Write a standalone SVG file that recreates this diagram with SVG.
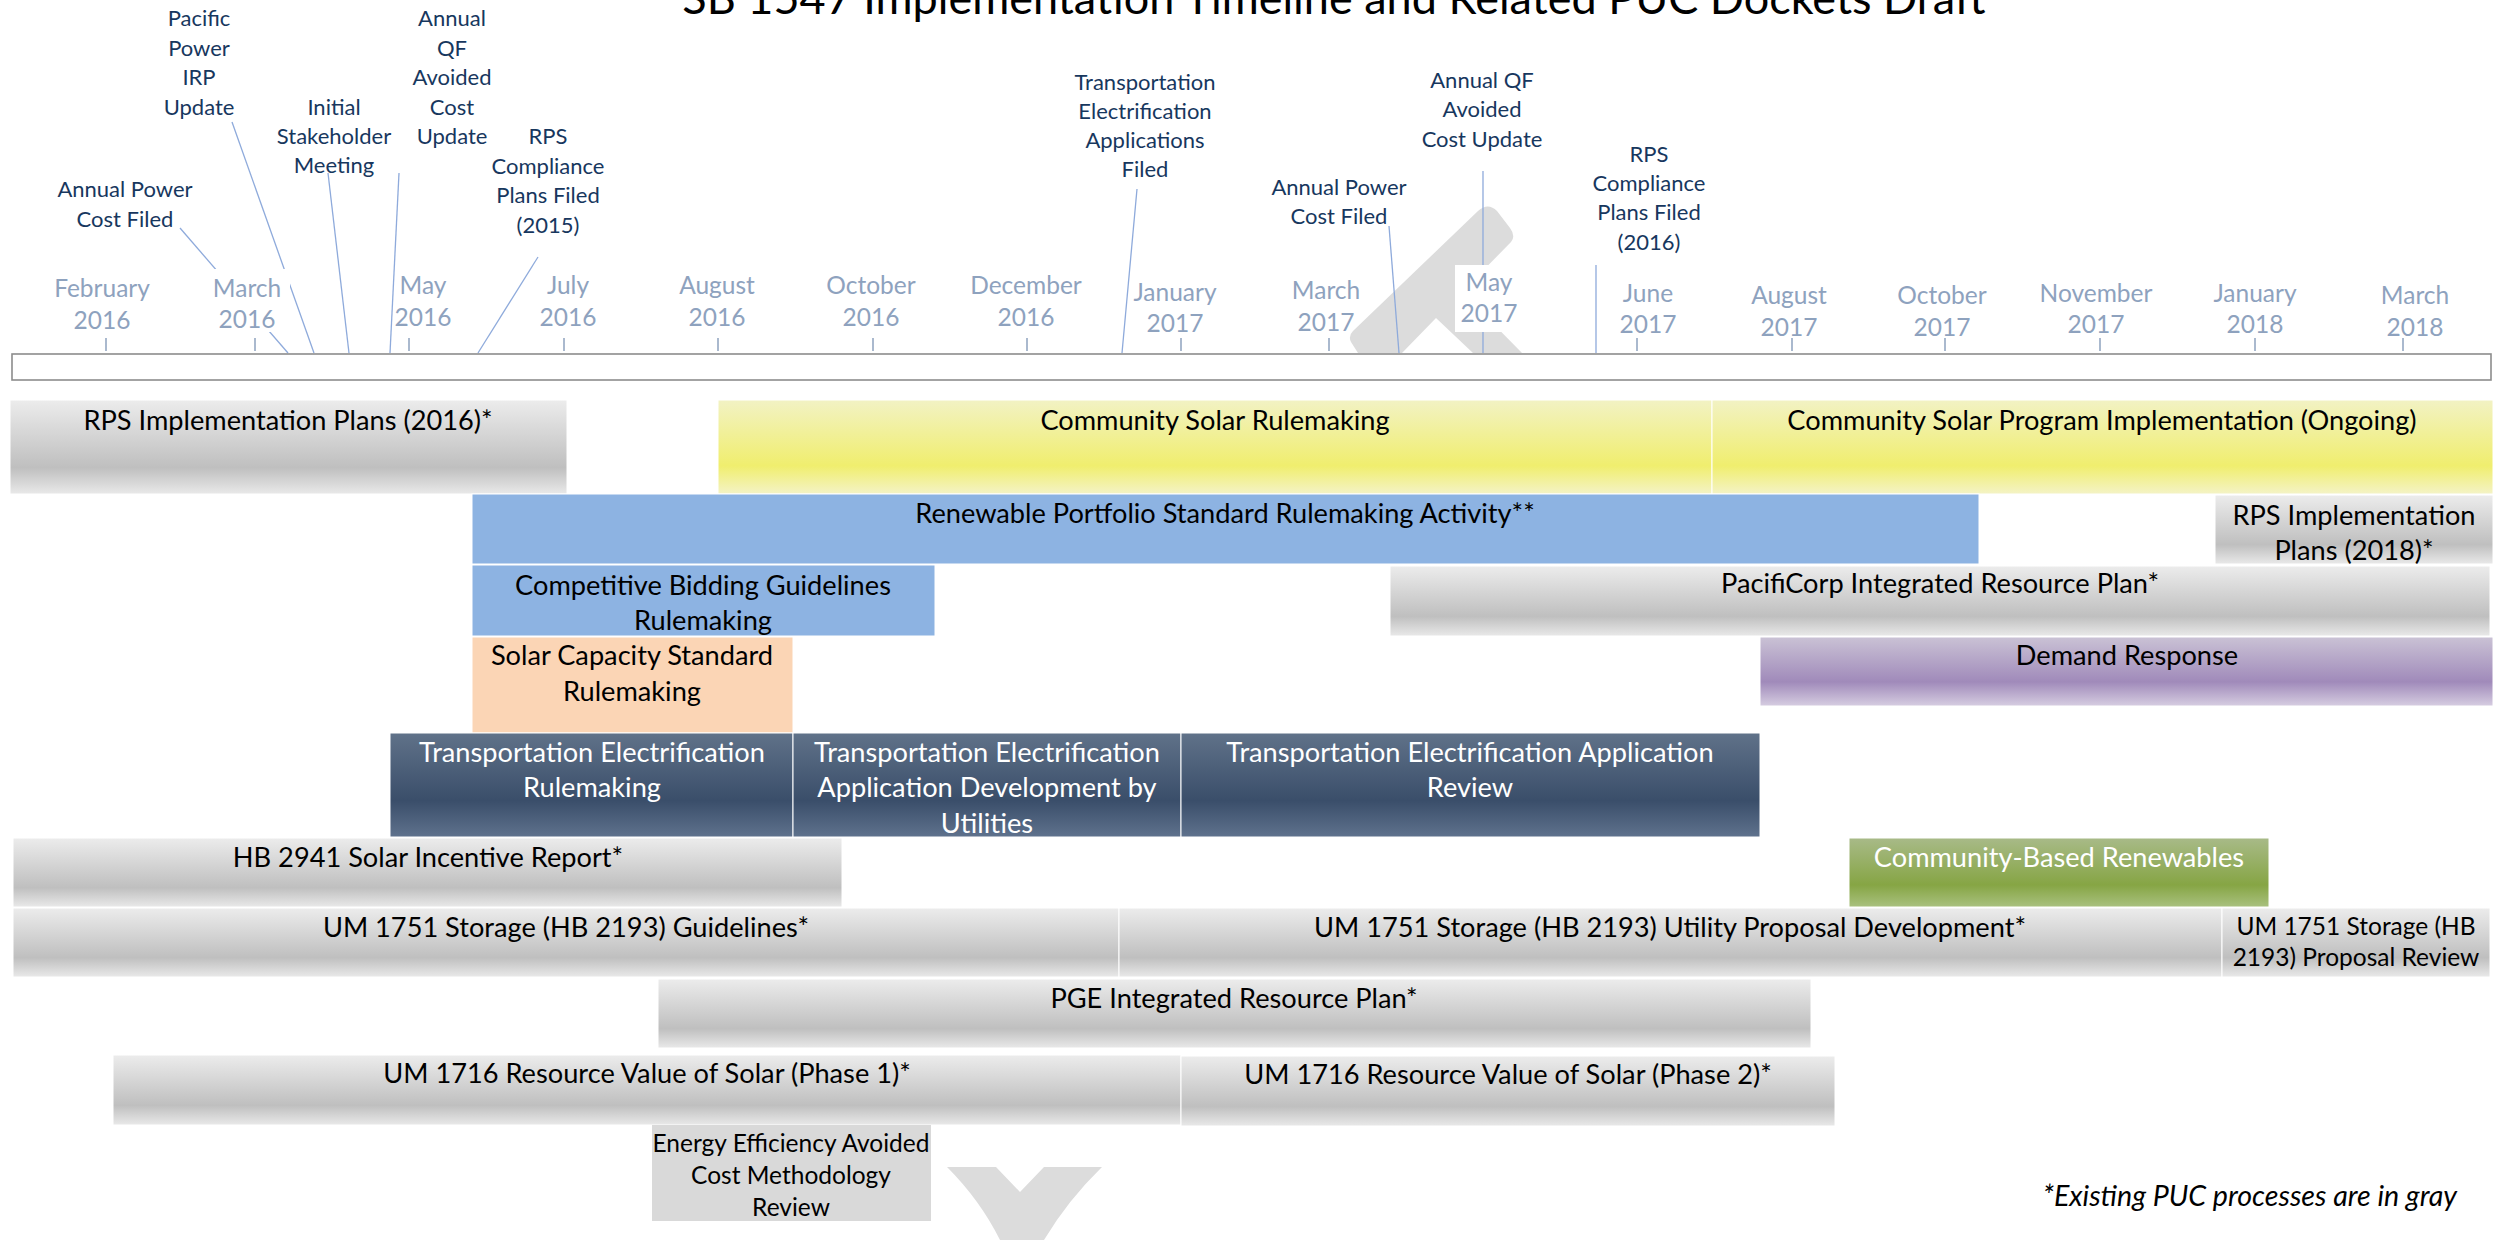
<svg xmlns="http://www.w3.org/2000/svg" width="2502" height="1240" viewBox="0 0 2502 1240">
<defs>
<linearGradient id="gGray" x1="0" y1="0" x2="0" y2="1"><stop offset="0" stop-color="#ececec"/><stop offset="0.72" stop-color="#bfbfbf"/><stop offset="1" stop-color="#e9e9e9"/></linearGradient>
<linearGradient id="gYel" x1="0" y1="0" x2="0" y2="1"><stop offset="0" stop-color="#f2f2c4"/><stop offset="0.7" stop-color="#f0ee6e"/><stop offset="1" stop-color="#f4f3c6"/></linearGradient>
<linearGradient id="gPur" x1="0" y1="0" x2="0" y2="1"><stop offset="0" stop-color="#cac2d5"/><stop offset="0.65" stop-color="#a08aba"/><stop offset="1" stop-color="#d6cde1"/></linearGradient>
<linearGradient id="gGrn" x1="0" y1="0" x2="0" y2="1"><stop offset="0" stop-color="#a8ba88"/><stop offset="0.68" stop-color="#86a544"/><stop offset="1" stop-color="#a9c17f"/></linearGradient>
<linearGradient id="gDk" x1="0" y1="0" x2="0" y2="1"><stop offset="0" stop-color="#607289"/><stop offset="0.65" stop-color="#3a4e6a"/><stop offset="1" stop-color="#5f728d"/></linearGradient>
</defs>
<style>
text{font-family:Lato,"Liberation Sans",sans-serif}
.bar{stroke:#ffffff;stroke-width:1}
.t{font-size:27.2px;fill:#000;text-anchor:middle}
.w{fill:#ffffff}
.s{font-size:24.5px;fill:#000;text-anchor:middle}
.m{font-size:24.5px;fill:#8ea2be;text-anchor:middle}
.e{font-size:22px;fill:#17375e;text-anchor:middle}
.tick{stroke:#8ea2be;stroke-width:1.5}
.call{stroke:#8eaadb;stroke-width:1.3;fill:none}
</style>
<rect width="2502" height="1240" fill="#ffffff"/>

<g id="watermark" fill="#dcdcdc">
<path d="M1358,353 L1351,342 Q1348,336 1353,331 L1478,211 Q1488,202 1497,211 L1510,228 Q1516,236 1511,242 L1462,292 L1522,353 L1473,353 L1436,318 L1402,353 Z"/>
<path d="M947,1167 L996,1167 L1020,1192 L1044,1167 L1102,1167 Q1068,1200 1044,1240 L1000,1240 Q980,1200 947,1167 Z"/>
</g>

<text x="1334" y="14" font-size="45" text-anchor="middle" fill="#000">SB 1547 Implementation Timeline and Related PUC Dockets Draft</text>

<g id="connectors">
<line class="call" x1="180" y1="228" x2="288" y2="353"/>
<line class="call" x1="232" y1="122" x2="314" y2="353"/>
<line class="call" x1="328" y1="173" x2="349" y2="353"/>
<line class="call" x1="399" y1="173" x2="390" y2="353"/>
<line class="call" x1="538" y1="257" x2="478" y2="353"/>
<line class="call" x1="1137" y1="189" x2="1122" y2="353"/>
<line class="call" x1="1389" y1="226" x2="1399" y2="353"/>
<line class="call" x1="1483" y1="171" x2="1483" y2="353"/>
<line class="call" x1="1596" y1="265" x2="1596" y2="353"/>
</g>

<g id="timeline">
<rect x="203" y="269" width="87" height="63" fill="#ffffff"/>
<rect x="1455" y="265" width="62" height="67" fill="#ffffff"/>
<g class="m">
<text x="102" y="297">February</text><text x="102" y="329">2016</text>
<text x="247" y="297">March</text><text x="247" y="328">2016</text>
<text x="423" y="294">May</text><text x="423" y="326">2016</text>
<text x="568" y="294">July</text><text x="568" y="326">2016</text>
<text x="717" y="294">August</text><text x="717" y="326">2016</text>
<text x="871" y="294">October</text><text x="871" y="326">2016</text>
<text x="1026" y="294">December</text><text x="1026" y="326">2016</text>
<text x="1175" y="301">January</text><text x="1175" y="332">2017</text>
<text x="1326" y="299">March</text><text x="1326" y="331">2017</text>
<text x="1489" y="291">May</text><text x="1489" y="322">2017</text>
<text x="1648" y="302">June</text><text x="1648" y="333">2017</text>
<text x="1789" y="304">August</text><text x="1789" y="336">2017</text>
<text x="1942" y="304">October</text><text x="1942" y="336">2017</text>
<text x="2096" y="302">November</text><text x="2096" y="333">2017</text>
<text x="2255" y="302">January</text><text x="2255" y="333">2018</text>
<text x="2415" y="304">March</text><text x="2415" y="336">2018</text>
</g>
<g class="tick">
<line x1="106" y1="338" x2="106" y2="351"/><line x1="255" y1="338" x2="255" y2="351"/>
<line x1="409" y1="338" x2="409" y2="351"/><line x1="564" y1="338" x2="564" y2="351"/>
<line x1="718" y1="338" x2="718" y2="351"/><line x1="873" y1="338" x2="873" y2="351"/>
<line x1="1027" y1="338" x2="1027" y2="351"/><line x1="1181" y1="338" x2="1181" y2="351"/>
<line x1="1329" y1="338" x2="1329" y2="351"/><line x1="1637" y1="338" x2="1637" y2="351"/>
<line x1="1792" y1="338" x2="1792" y2="351"/><line x1="1945" y1="338" x2="1945" y2="351"/>
<line x1="2100" y1="338" x2="2100" y2="351"/><line x1="2255" y1="338" x2="2255" y2="351"/>
<line x1="2403" y1="338" x2="2403" y2="351"/>
</g>
<rect x="12" y="354" width="2479" height="26" fill="#ffffff" stroke="#8c8c8c" stroke-width="1.6"/>
</g>

<g id="events" class="e">
<text x="199" y="26">Pacific</text><text x="199" y="55.5">Power</text><text x="199" y="85">IRP</text><text x="199" y="114.5">Update</text>
<text x="334" y="115">Initial</text><text x="334" y="144">Stakeholder</text><text x="334" y="173">Meeting</text>
<text x="452" y="26">Annual</text><text x="452" y="55.5">QF</text><text x="452" y="85">Avoided</text><text x="452" y="114.5">Cost</text><text x="452" y="144">Update</text>
<text x="548" y="144">RPS</text><text x="548" y="173.5">Compliance</text><text x="548" y="203">Plans Filed</text><text x="548" y="232.5">(2015)</text>
<text x="125" y="197">Annual Power</text><text x="125" y="226.5">Cost Filed</text>
<text x="1145" y="90">Transportation</text><text x="1145" y="119">Electrification</text><text x="1145" y="148">Applications</text><text x="1145" y="177">Filed</text>
<text x="1339" y="195">Annual Power</text><text x="1339" y="224">Cost Filed</text>
<text x="1482" y="87.5">Annual QF</text><text x="1482" y="117">Avoided</text><text x="1482" y="146.5">Cost Update</text>
<text x="1649" y="161.5">RPS</text><text x="1649" y="191">Compliance</text><text x="1649" y="220">Plans Filed</text><text x="1649" y="249.5">(2016)</text>
</g>

<g id="rps2016"><rect class="bar" x="10" y="400" width="557" height="94" fill="url(#gGray)"/><text class="t" x="288" y="430">RPS Implementation Plans (2016)*</text></g>
<g id="csr"><rect class="bar" x="718" y="400" width="994" height="94" fill="url(#gYel)"/><text class="t" x="1215" y="430">Community Solar Rulemaking</text></g>
<g id="cspi"><rect class="bar" x="1712" y="400" width="781" height="94" fill="url(#gYel)"/><text class="t" x="2102" y="430">Community Solar Program Implementation (Ongoing)</text></g>

<g id="rpsActivity"><rect class="bar" x="472" y="494" width="1507" height="70" fill="#8db3e2"/><text class="t" x="1225" y="523">Renewable Portfolio Standard Rulemaking Activity**</text></g>
<g id="rps2018"><rect class="bar" x="2215" y="495" width="278" height="69" fill="url(#gGray)"/><text class="t" x="2354" y="525">RPS Implementation</text><text class="t" x="2354" y="560">Plans (2018)*</text></g>

<g id="competitive"><rect class="bar" x="472" y="565" width="463" height="71" fill="#8db3e2"/><text class="t" x="703" y="595">Competitive Bidding Guidelines</text><text class="t" x="703" y="630">Rulemaking</text></g>
<g id="pacificorp"><rect class="bar" x="1390" y="566" width="1100" height="70" fill="url(#gGray)"/><text class="t" x="1940" y="593">PacifiCorp Integrated Resource Plan*</text></g>

<g id="solarcap"><rect class="bar" x="472" y="637" width="321" height="96" fill="#fbd5b5"/><text class="t" x="632" y="665">Solar Capacity Standard</text><text class="t" x="632" y="701">Rulemaking</text></g>
<g id="demand"><rect class="bar" x="1760" y="637" width="733" height="69" fill="url(#gPur)"/><text class="t" x="2127" y="665">Demand Response</text></g>

<g id="te1"><rect class="bar" x="390" y="733" width="403" height="104" fill="url(#gDk)"/><text class="t w" x="592" y="762">Transportation Electrification</text><text class="t w" x="592" y="797">Rulemaking</text></g>
<g id="te2"><rect class="bar" x="793" y="733" width="388" height="104" fill="url(#gDk)"/><text class="t w" x="987" y="762">Transportation Electrification</text><text class="t w" x="987" y="797">Application Development by</text><text class="t w" x="987" y="833">Utilities</text></g>
<g id="te3"><rect class="bar" x="1181" y="733" width="579" height="104" fill="url(#gDk)"/><text class="t w" x="1470" y="762">Transportation Electrification Application</text><text class="t w" x="1470" y="797">Review</text></g>

<g id="hb2941"><rect class="bar" x="13" y="838" width="829" height="69" fill="url(#gGray)"/><text class="t" x="428" y="867">HB 2941 Solar Incentive Report*</text></g>
<g id="cbr"><rect class="bar" x="1849" y="838" width="420" height="69" fill="url(#gGrn)"/><text class="t w" x="2059" y="867">Community-Based Renewables</text></g>

<g id="um1751a"><rect class="bar" x="13" y="908" width="1106" height="69" fill="url(#gGray)"/><text class="t" x="566" y="937">UM 1751 Storage (HB 2193) Guidelines*</text></g>
<g id="um1751b"><rect class="bar" x="1119" y="908" width="1103" height="69" fill="url(#gGray)"/><text class="t" x="1670" y="937">UM 1751 Storage (HB 2193) Utility Proposal Development*</text></g>
<g id="um1751c"><rect class="bar" x="2222" y="908" width="268" height="69" fill="url(#gGray)"/><text class="s" x="2356" y="935">UM 1751 Storage (HB</text><text class="s" x="2356" y="966">2193) Proposal Review</text></g>

<g id="pge"><rect class="bar" x="658" y="979" width="1153" height="69" fill="url(#gGray)"/><text class="t" x="1234" y="1008">PGE Integrated Resource Plan*</text></g>

<g id="um1716a"><rect class="bar" x="113" y="1055" width="1068" height="70" fill="url(#gGray)"/><text class="t" x="647" y="1083">UM 1716 Resource Value of Solar (Phase 1)*</text></g>
<g id="um1716b"><rect class="bar" x="1181" y="1056" width="654" height="70" fill="url(#gGray)"/><text class="t" x="1508" y="1084">UM 1716 Resource Value of Solar (Phase 2)*</text></g>

<g id="eeacm"><rect x="652" y="1125" width="279" height="96" fill="#d9d9d9"/><text class="s" x="791" y="1152">Energy Efficiency Avoided</text><text class="s" x="791" y="1184">Cost Methodology</text><text class="s" x="791" y="1216">Review</text></g>

<text x="2457" y="1206" font-size="28.6" font-style="italic" text-anchor="end" fill="#000">*Existing PUC processes are in gray</text>
</svg>
